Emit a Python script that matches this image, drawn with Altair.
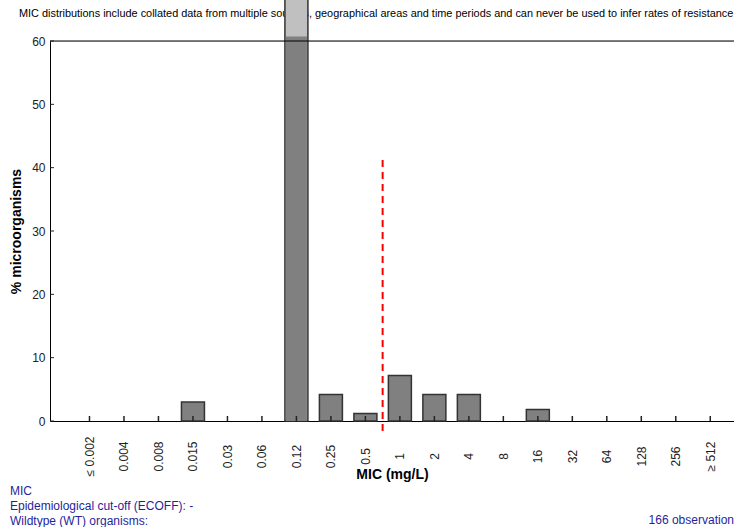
import altair as alt
import pandas as pd

# MIC categories (mg/L) and percentage of isolates in each
mic_labels = ["≤ 0.002", "0.004", "0.008", "0.015", "0.03", "0.06", "0.12",
              "0.25", "0.5", "1", "2", "4", "8", "16", "32", "64", "128",
              "256", "≥ 512"]
pct_values = [0, 0, 0, 3.0, 0, 0, 74.1, 4.2, 1.2, 7.2, 4.2, 4.2, 0, 1.8,
              0, 0, 0, 0, 0]
y_ticks = [0, 10, 20, 30, 40, 50, 60]

bar_cap = 60.7            # bars taller than this are drawn with a light overflow cap
cutoff_pos = [8.5]        # dashed marker between 0.5 and 1 mg/L
cutoff_top = 41.2
cutoff_bottom = -2.0

header = ("MIC distributions include collated data from multiple sources, "
          "geographical areas and time periods and can never be used to infer "
          "rates of resistance")
footer_lines = ["MIC", "Epidemiological cut-off (ECOFF):  -", "Wildtype (WT) organisms:"]
n_obs_text = "166 observation"

W, H = 684, 380
FONT = "Arial, Liberation Sans, sans-serif"
BLUE = "#1f1f9c"
BAR_W = 23

df = pd.DataFrame({
    "idx": list(range(len(mic_labels))),
    "label": mic_labels,
    "pct": pct_values,
})
df["shown"] = df["pct"].clip(upper=bar_cap)
df["cap"] = bar_cap
df["fill"] = ["#c0c0c0" if p > bar_cap else "#808080" for p in df["pct"]]

label_js = "[" + ",".join('"%s"' % s for s in mic_labels) + "]"

x_scale = alt.Scale(domain=[-1, 18.543], nice=False, zero=False)
y_scale = alt.Scale(domain=[0, 60], nice=False)

x_axis = alt.Axis(
    values=list(range(len(mic_labels))),
    labelExpr=label_js + "[datum.value]",
    labelAngle=270, labelAlign="center", labelBaseline="middle",
    labelPadding=35, labelOverlap=False, labelBound=False, labelFlush=False,
    ticks=False, grid=False,
    labelFont=FONT, labelFontSize=12, labelColor="#222222",
    domainColor="#000000", domainWidth=1,
    title="MIC (mg/L)", titleFont=FONT, titleFontSize=14,
    titleFontWeight="bold", titleColor="#000000", titlePadding=-8,
)
y_axis = alt.Axis(
    values=y_ticks, ticks=False, grid=False, labelOverlap=False,
    labelFont=FONT, labelFontSize=12, labelColor="#222222", labelPadding=5,
    domainColor="#000000", domainWidth=1,
    title="% microorganisms", titleFont=FONT, titleFontSize=14,
    titleFontWeight="bold", titleColor="#000000", titlePadding=8,
)

base = alt.Chart(df)

# header sentence above the plot (drawn first so the tall bar covers it)
header_text = alt.Chart(pd.DataFrame({"t": [header]})).mark_text(
    align="left", baseline="middle", font=FONT, fontSize=10.9, color="#000000", clip=False
).encode(x=alt.value(-31), y=alt.value(-27), text="t:N")

# outlined bars at full height (light fill where the bar runs past the cap)
bars = base.transform_filter("datum.pct > 0").mark_bar(
    size=BAR_W, stroke="#333333", strokeWidth=1.5, clip=False
).encode(
    x=alt.X("idx:Q", scale=x_scale, axis=x_axis),
    y=alt.Y("pct:Q", scale=y_scale, axis=y_axis),
    y2=alt.datum(0),
    fill=alt.Fill("fill:N", scale=None),
)

# dark body of the overflowing bar, up to the cap
capped_body = base.transform_filter("datum.pct > datum.cap").mark_bar(
    size=BAR_W - 2, color="#808080", strokeWidth=0, clip=False
).encode(
    x=alt.X("idx:Q", scale=x_scale, axis=x_axis),
    y=alt.Y("shown:Q", scale=y_scale, axis=y_axis),
    y2=alt.datum(0),
)

# short ticks pointing up from the x axis
x_ticks = base.mark_rule(color="#222222", strokeWidth=1.5).encode(
    x=alt.X("idx:Q", scale=x_scale, axis=x_axis),
    y=alt.value(H),
    y2=alt.value(H - 5),
)

# short ticks pointing right from the y axis
y_tick_marks = alt.Chart(pd.DataFrame({"v": y_ticks})).mark_rule(
    color="#222222", strokeWidth=1
).encode(
    y=alt.Y("v:Q", scale=y_scale, axis=y_axis),
    x=alt.value(0),
    x2=alt.value(4),
)

top_line = alt.Chart(pd.DataFrame({"a": [0]})).mark_rule(
    color="#000000", strokeWidth=1
).encode(x=alt.value(0), x2=alt.value(W), y=alt.value(0))

cutoff = alt.Chart(pd.DataFrame({
    "pos": cutoff_pos, "top": [cutoff_top], "bottom": [cutoff_bottom]
})).mark_rule(color="#ff0000", strokeWidth=2, strokeDash=[7, 5], clip=False).encode(
    x=alt.X("pos:Q", scale=x_scale, axis=x_axis),
    y=alt.Y("top:Q", scale=y_scale, axis=y_axis),
    y2="bottom:Q",
)

footer_df = pd.DataFrame({
    "t": footer_lines,
    "yy": [H + 70, H + 85, H + 100],
})
footer = alt.Chart(footer_df).mark_text(
    align="left", baseline="middle", font=FONT, fontSize=12, color=BLUE, clip=False
).encode(x=alt.value(-40), y=alt.Y("yy:Q", scale=None), text="t:N")

obs = alt.Chart(pd.DataFrame({"t": [n_obs_text]})).mark_text(
    align="right", baseline="middle", font=FONT, fontSize=12, color=BLUE, clip=False
).encode(x=alt.value(W), y=alt.value(H + 99), text="t:N")

chart = alt.layer(
    header_text, bars, capped_body, top_line, x_ticks, y_tick_marks, cutoff, footer, obs
).properties(
    width=W, height=H,
    autosize=alt.AutoSizeParams(type="none"),
    padding={"left": 50, "top": 41, "right": 0, "bottom": 106},
).configure_view(stroke=None).configure(background="#ffffff")

chart.save("out.html", embed_options={"renderer": "svg", "actions": False})
